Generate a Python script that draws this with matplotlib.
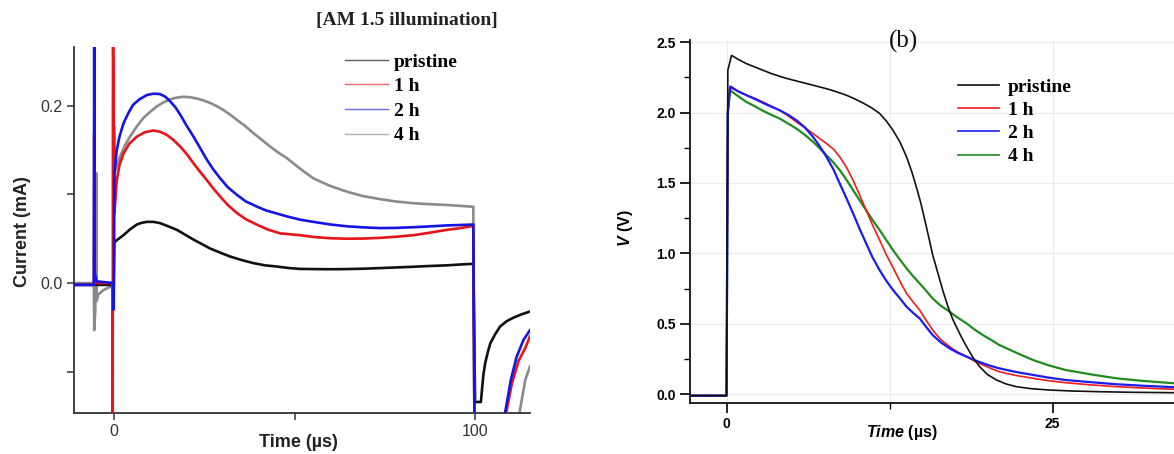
import matplotlib
matplotlib.use("Agg")
import matplotlib.pyplot as plt
from matplotlib.lines import Line2D
from matplotlib.ticker import FixedLocator

plt.rcParams['mathtext.fontset'] = 'custom'
plt.rcParams['mathtext.it'] = 'Liberation Sans:bold:italic'
plt.rcParams['mathtext.rm'] = 'Liberation Sans:bold'

SERIF = 'Liberation Serif'
SANS = 'Liberation Sans'
MU = '\u00b5'

# ---------------- data: panel (a) transient current ----------------
labels = ['pristine', '1 h', '2 h', '4 h']

a_black_t = [-11.1, -0.1, 0.05, 0.3, 1.3, 2.6, 4.4, 6.3, 7.7, 9.1, 10.9, 12.7, 15.0, 17.4, 19.7, 22.0,
             24.3, 26.6, 29.3, 32.1, 35.3, 38.6, 41.8, 45.0, 48.3, 51.5, 55.2, 60.0, 64.5, 69.0, 73.7,
             78.0, 82.9, 87.0, 92.2, 96.0, 99.5, 100.0, 101.6, 101.9, 102.3, 102.8, 103.5, 104.2, 105.5,
             106.9, 108.7, 110.6, 113.0, 115.2]
a_black_I = [-0.002, -0.002, 0.045, 0.047, 0.050, 0.054, 0.0605, 0.066, 0.068, 0.069, 0.069, 0.0676,
             0.064, 0.060, 0.0545, 0.049, 0.044, 0.039, 0.0345, 0.030, 0.026, 0.0225, 0.020, 0.0187,
             0.017, 0.016, 0.0158, 0.0156, 0.0158, 0.0162, 0.0169, 0.0176, 0.0184, 0.0192, 0.020, 0.021,
             0.0217, -0.134, -0.134, -0.120, -0.103, -0.090, -0.078, -0.068, -0.058, -0.049, -0.043,
             -0.039, -0.035, -0.032]

a_red_t = [-11.1, -5.6, -5.5, -5.4, -0.45, -0.4, -0.3, 0.1, 0.75, 1.5, 2.6, 4.2, 6.3, 8.5, 10.9, 12.8,
           14.6, 16.5, 18.3, 20.2, 22.0, 23.8, 25.7, 27.5, 29.4, 31.5, 34.0, 36.5, 39.5, 42.5, 46.0,
           51.5, 55.2, 60.0, 64.5, 69.0, 73.7, 78.0, 82.9, 87.0, 92.2, 96.0, 99.5, 100.0, 108.2, 108.6,
           110.2, 112.0, 113.9, 115.2]
a_red_I = [-0.002, -0.002, 0.17, 0.0, 0.0, -0.3, 0.3, 0.079, 0.116, 0.133, 0.146, 0.157, 0.165, 0.170,
           0.172, 0.1705, 0.167, 0.161, 0.154, 0.145, 0.135, 0.1255, 0.116, 0.1065, 0.0975, 0.088,
           0.079, 0.072, 0.066, 0.0605, 0.056, 0.054, 0.052, 0.0505, 0.050, 0.0502, 0.051, 0.0522,
           0.054, 0.0565, 0.060, 0.062, 0.0645, -0.3, -0.3, -0.146, -0.113, -0.088, -0.073, -0.060]

a_blue_t = [-11.1, -5.6, -5.5, -5.35, -4.8, -0.3, -0.1, 0.1, 0.75, 1.5, 2.6, 4.0, 5.3, 7.0, 9.1, 11.0,
            12.7, 14.2, 15.5, 17.0, 18.3, 20.0, 22.0, 24.0, 25.7, 27.5, 29.4, 31.5, 34.0, 36.5, 39.5,
            42.0, 45.0, 48.0, 51.5, 55.2, 60.0, 64.5, 69.0, 73.7, 78.0, 82.9, 87.0, 92.2, 96.0, 99.5,
            100.0, 108.0, 108.3, 109.9, 111.5, 113.4, 115.2]
a_blue_I = [-0.002, -0.002, 0.30, 0.011, 0.002, 0.0, -0.03, 0.124, 0.150, 0.165, 0.180, 0.192, 0.201,
            0.207, 0.212, 0.2135, 0.213, 0.210, 0.205, 0.198, 0.190, 0.178, 0.165, 0.151, 0.139, 0.128,
            0.118, 0.108, 0.0995, 0.092, 0.0863, 0.082, 0.0785, 0.075, 0.0715, 0.069, 0.066, 0.064,
            0.0628, 0.062, 0.0622, 0.063, 0.0638, 0.065, 0.0655, 0.066, -0.3, -0.3, -0.146, -0.109,
            -0.083, -0.064, -0.053]

a_gray_t = [-11.1, -5.6, -5.5, -5.2, -4.9, -4.8, -4.4, -3.0, -1.0, -0.1, 0.0, 0.15, 0.9, 1.7, 3.0, 4.4,
            6.2, 8.1, 10.0, 11.8, 13.6, 15.5, 17.3, 19.2, 21.0, 22.9, 24.7, 26.6, 28.4, 30.3, 32.1, 34.0,
            36.3, 38.6, 40.9, 43.2, 45.5, 47.8, 51.5, 55.2, 59.8, 64.5, 69.0, 73.7, 78.0, 82.9, 87.0,
            92.2, 96.0, 99.5, 100.0, 112.0, 112.3, 113.9, 115.2]
a_gray_I = [0.0, 0.0, -0.053, -0.03, 0.124, -0.02, -0.013, -0.008, -0.004, -0.003, 0.176, 0.124, 0.134,
            0.143, 0.155, 0.165, 0.176, 0.186, 0.193, 0.199, 0.2035, 0.207, 0.209, 0.210, 0.2095, 0.208,
            0.206, 0.203, 0.1995, 0.195, 0.190, 0.184, 0.177, 0.169, 0.1615, 0.154, 0.147, 0.141, 0.129,
            0.118, 0.1096, 0.103, 0.098, 0.0946, 0.092, 0.090, 0.089, 0.088, 0.087, 0.086, -0.3, -0.3,
            -0.146, -0.109, -0.094]

# ---------------- data: panel (b) voltage decay ----------------
b_black_t = [-2.8, 0.0, 0.1, 0.38, 1.0, 1.53, 2.2, 2.8, 3.4, 4.08, 4.7, 5.36, 6.0, 6.63, 7.3, 7.9, 8.5,
             9.19, 9.8, 10.46, 11.1, 11.74, 12.25, 12.76, 13.3, 13.8, 14.2, 14.55, 14.9, 15.2, 15.5,
             15.8, 16.2, 16.6, 17.0, 17.35, 17.9, 18.4, 18.9, 19.4, 20.0, 20.7, 21.4, 22.2, 23.4,
             24.75, 26.5, 28.6, 31.0, 34.3]
b_black_V = [-0.01, -0.01, 2.30, 2.406, 2.372, 2.347, 2.322, 2.30, 2.278, 2.257, 2.240, 2.224, 2.209,
             2.194, 2.178, 2.163, 2.145, 2.123, 2.098, 2.068, 2.035, 1.993, 1.94, 1.874, 1.79, 1.685,
             1.58, 1.472, 1.355, 1.236, 1.115, 0.99, 0.86, 0.73, 0.615, 0.53, 0.425, 0.338, 0.26, 0.196,
             0.14, 0.101, 0.074, 0.054, 0.039, 0.030, 0.023, 0.018, 0.014, 0.011]

b_grid_t = [0.9, 1.53, 2.2, 2.8, 3.4, 4.08, 4.7, 5.36, 6.0, 6.63, 7.15, 7.66, 8.2, 8.68, 9.2, 9.7, 10.2,
            10.7, 11.2, 11.74, 12.25, 12.76, 13.3, 13.8, 14.3, 14.8, 15.3, 15.8, 16.4, 17.1, 17.7, 18.4,
            19.0, 19.65, 20.3, 20.9, 22.2, 23.5, 24.7, 26.0, 28.0, 29.9, 32.0, 34.3]
b_red_t = [-2.8, 0.0, 0.1, 0.25] + b_grid_t
b_red_V = [-0.01, -0.01, 2.0, 2.18, 2.15, 2.123, 2.10, 2.075, 2.047, 2.016, 1.978, 1.933, 1.892, 1.851,
           1.815, 1.78, 1.74, 1.685, 1.61, 1.52, 1.415, 1.307, 1.20, 1.094, 0.99, 0.90, 0.80, 0.716,
           0.655, 0.598, 0.525, 0.456, 0.39, 0.338, 0.30, 0.267, 0.236, 0.208, 0.182, 0.160, 0.133,
           0.113, 0.096, 0.082, 0.066, 0.054, 0.044, 0.035]
b_blue_t = [-2.8, 0.0, 0.1, 0.3] + b_grid_t
b_blue_V = [-0.01, -0.01, 2.0, 2.185, 2.15, 2.123, 2.095, 2.068, 2.043, 2.016, 1.985, 1.945, 1.895,
            1.827, 1.76, 1.685, 1.595, 1.496, 1.39, 1.284, 1.175, 1.071, 0.97, 0.88, 0.805, 0.74, 0.68,
            0.621, 0.578, 0.539, 0.478, 0.42, 0.37, 0.326, 0.295, 0.267, 0.243, 0.22, 0.20, 0.184,
            0.158, 0.137, 0.118, 0.101, 0.085, 0.071, 0.060, 0.050]
b_green_t = [-2.8, 0.0, 0.1, 0.25] + b_grid_t
b_green_V = [-0.01, -0.01, 2.0, 2.16, 2.115, 2.075, 2.043, 2.012, 1.985, 1.957, 1.923, 1.886, 1.842,
             1.792, 1.745, 1.697, 1.645, 1.591, 1.522, 1.449, 1.378, 1.307, 1.236, 1.165, 1.094, 1.023,
             0.955, 0.894, 0.838, 0.787, 0.735, 0.68, 0.63, 0.586, 0.545, 0.503, 0.46, 0.42, 0.385,
             0.35, 0.295, 0.243, 0.205, 0.172, 0.14, 0.113, 0.094, 0.078]

a_xticks = [0, 50, 100]
a_xticklabels = ['0', '', '100']
a_yticks = [-0.1, 0.0, 0.1, 0.2]
a_yticklabels = ['', '0.0', '', '0.2']
b_xticks = [0, 25]
b_yticks = [0.0, 0.5, 1.0, 1.5, 2.0, 2.5]

W, H = 1174, 454
fig = plt.figure(figsize=(W / 100, H / 100), dpi=100)


def fx(px):
    return px / W


def fy(py):
    return 1 - py / H


# ---------------- panel (a) ----------------
ax1 = fig.add_axes([fx(74), fy(413), fx(530) - fx(74), fy(46.7) - fy(413)])
a_colors = ['#111111', '#e8141a', '#1414e6', '#8a8a8a']
ax1.plot(a_gray_t, a_gray_I, color=a_colors[3], lw=1.9, zorder=2)
ax1.plot(a_black_t, a_black_I, color=a_colors[0], lw=1.9, zorder=3)
ax1.plot(a_red_t, a_red_I, color=a_colors[1], lw=1.9, zorder=4)
ax1.plot(a_blue_t, a_blue_I, color=a_colors[2], lw=1.9, zorder=5)
ax1.set_xlim(-11.1, 115.2)
ax1.set_ylim(-0.1464, 0.2664)
for s in ['top', 'right']:
    ax1.spines[s].set_visible(False)
for s in ['left', 'bottom']:
    ax1.spines[s].set_color('#333333')
    ax1.spines[s].set_linewidth(1.3)
ax1.set_xticks(a_xticks)
ax1.set_xticklabels(a_xticklabels)
ax1.set_yticks(a_yticks)
ax1.set_yticklabels(a_yticklabels)
ax1.tick_params(direction='out', length=5, width=1.1, color='#333333', labelsize=11.5,
                labelcolor='#333333', pad=3)
for lab in ax1.get_xticklabels() + ax1.get_yticklabels():
    lab.set_family(SANS)
ax1.set_ylabel('Current (mA)', fontsize=13, fontweight='bold', family=SANS, color='#222222')
ax1.yaxis.set_label_coords(-0.094, 0.494)
ax1.set_xlabel('Time (' + MU + 's)', fontsize=13, fontweight='bold', family=SANS, color='#222222')
ax1.xaxis.set_label_coords(0.493, -0.058)

a_leg_colors = ['#606060', '#e86a6a', '#6a6ae0', '#b0b0b0']
a_handles = [Line2D([], [], color=c, lw=1.0) for c in a_leg_colors]
ax1.legend(a_handles, labels, loc='upper left', bbox_to_anchor=(fx(345), fy(53)),
           bbox_transform=fig.transFigure, frameon=False, borderpad=0, borderaxespad=0,
           handlelength=2.2, handletextpad=0.3, labelspacing=0.36,
           prop={'family': SERIF, 'weight': 'bold', 'size': 14})

fig.text(fx(407), fy(20), '[AM 1.5 illumination]', ha='center', va='center',
         family=SERIF, fontweight='bold', fontsize=14, color='#222222')

# ---------------- panel (b) ----------------
ax2 = fig.add_axes([fx(690), fy(402.7), 1 - fx(690), fy(40) - fy(402.7)])
b_colors = ['#111111', '#ee1c1c', '#1c1cee', '#1e8c1e']
ax2.plot(b_black_t, b_black_V, color=b_colors[0], lw=1.2, zorder=5)
ax2.plot(b_green_t, b_green_V, color=b_colors[3], lw=1.6, zorder=2)
ax2.plot(b_red_t, b_red_V, color=b_colors[1], lw=1.2, zorder=3)
ax2.plot(b_blue_t, b_blue_V, color=b_colors[2], lw=1.6, zorder=4)
ax2.set_xlim(-2.8, 34.3)
ax2.set_ylim(-0.06, 2.515)
for s in ['top', 'right']:
    ax2.spines[s].set_visible(False)
for s in ['left', 'bottom']:
    ax2.spines[s].set_color('#111111')
    ax2.spines[s].set_linewidth(1.3)
ax2.set_xticks(b_xticks)
ax2.xaxis.set_minor_locator(FixedLocator([12.5]))
ax2.set_yticks(b_yticks)
ax2.yaxis.set_minor_locator(FixedLocator([0.25, 0.75, 1.25, 1.75, 2.25]))
ax2.tick_params(which='major', direction='out', length=7, width=1.2, labelsize=10, pad=3)
ax2.tick_params(which='minor', direction='out', length=4, width=1.0)
for lab in ax2.get_xticklabels() + ax2.get_yticklabels():
    lab.set_family(SANS)
    lab.set_fontweight('bold')
ax2.grid(True, which='major', axis='y', color='#ececec', lw=0.8)
ax2.grid(True, which='both', axis='x', color='#ececec', lw=0.8)
ax2.set_axisbelow(True)
ax2.set_xlabel(r'$\mathit{Time}$ (' + MU + 's)', fontsize=11.5, fontweight='bold', family=SANS)
ax2.xaxis.set_label_coords(0.438, -0.056)
ax2.set_ylabel(r'$\mathit{V}$ (V)', fontsize=11.5, fontweight='bold', family=SANS)
ax2.yaxis.set_label_coords(-0.114, 0.482)

b_handles = [Line2D([], [], color=c, lw=1.2) for c in b_colors]
ax2.legend(b_handles, labels, loc='upper left', bbox_to_anchor=(fx(958), fy(78)),
           bbox_transform=fig.transFigure, frameon=False, borderpad=0, borderaxespad=0,
           handlelength=2.1, handletextpad=0.45, labelspacing=0.29,
           prop={'family': SERIF, 'weight': 'bold', 'size': 14})

fig.text(fx(904), fy(41), '(b)', ha='center', va='center', family=SERIF, fontsize=18, color='#111111')

fig.savefig('out.png', dpi=100)
